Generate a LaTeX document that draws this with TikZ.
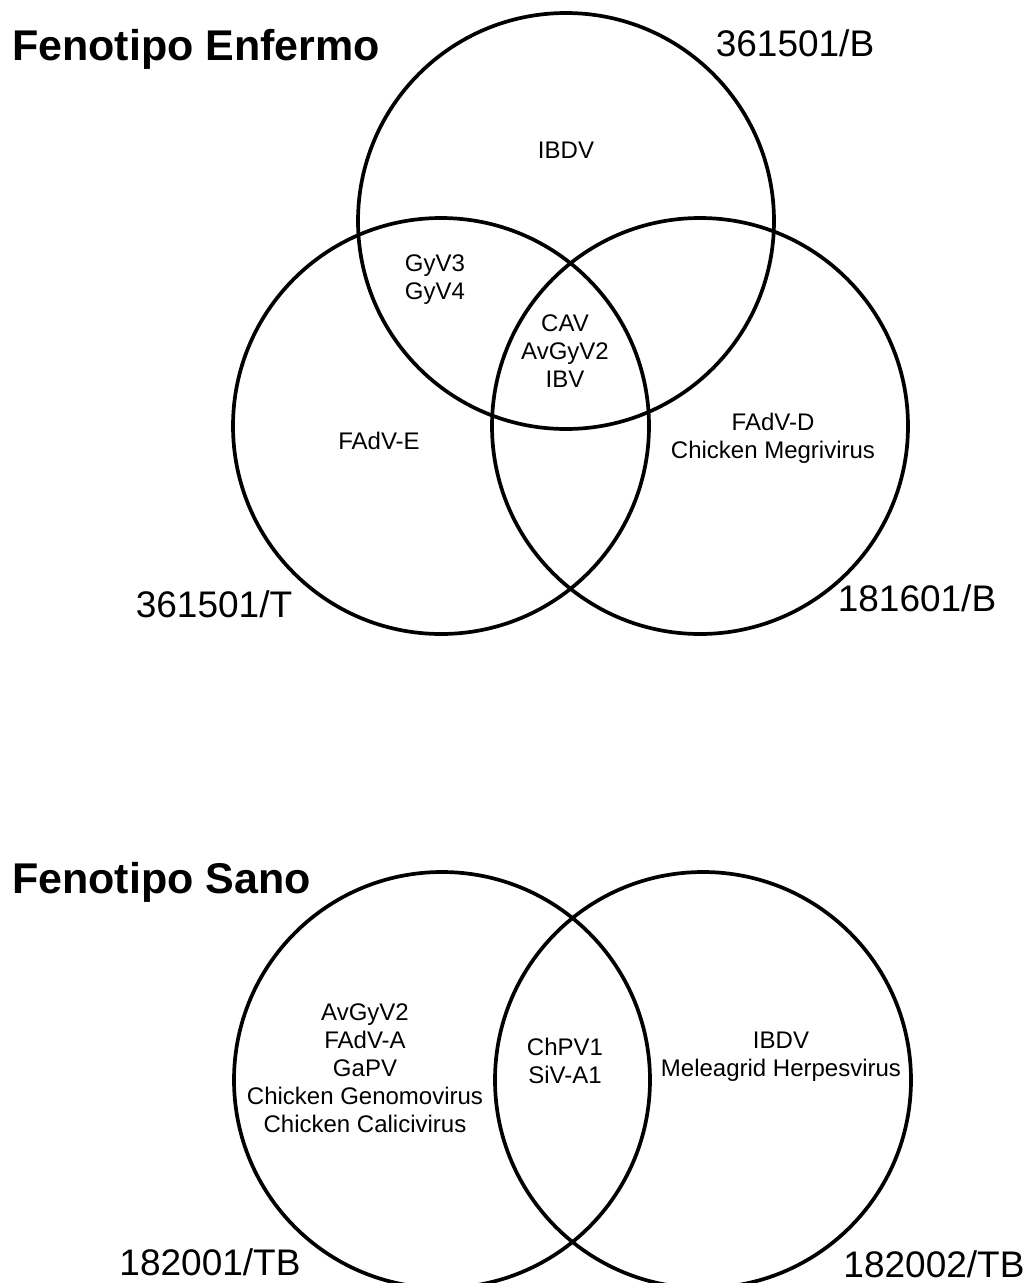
\documentclass[tikz,border=0pt]{standalone}
\usepackage{fontspec}
\setmainfont{Liberation Sans}

\tikzset{
  vset/.style={line width=3.7pt},
  phenotitle/.style={font=\fontsize{43}{50}\selectfont\bfseries, anchor=base west, inner sep=0pt},
  samplelabel/.style={font=\fontsize{37}{44}\selectfont, inner sep=0pt},
  virus/.style={font=\fontsize{24}{28}\selectfont, align=center, inner sep=0pt},
}

\begin{document}
\begin{tikzpicture}[x=1pt,y=-1pt]
    \useasboundingbox (0,0) rectangle (1030,1283);
    % Fenotipo Enfermo
    \draw [vset] (566,221) circle [radius=208pt];
    \draw [vset] (441,426) circle [radius=208pt];
    \draw [vset] (700,426) circle [radius=208pt];
    \node [phenotitle] (enfermo) at (12,60) {Fenotipo Enfermo};
    \node [samplelabel] (b361) at (795,43) {361501/B};
    \node [samplelabel] (t361) at (214,604) {361501/T};
    \node [samplelabel] (b181) at (917,598) {181601/B};
    \node [virus] (onlyB) at (566,150) {IBDV};
    \node [virus] (BT) at (435,280) {GyV3\\GyV4};
    \node [virus] (all) at (565,351) {CAV\\AvGyV2\\IBV};
    \node [virus] (onlyT) at (379,441) {FAdV-E};
    \node [virus] (onlyB2) at (773,438) {FAdV-D\\Chicken Megrivirus};
    % Fenotipo Sano
    \draw [vset] (442,1080) circle [radius=208pt];
    \draw [vset] (703,1080) circle [radius=208pt];
    \node [phenotitle] (sano) at (12,893) {Fenotipo Sano};
    \node [samplelabel] (tb1) at (210,1262) {182001/TB};
    \node [samplelabel] (tb2) at (934,1264) {182002/TB};
    \node [virus] (onlyTB1) at (365,1068) {AvGyV2\\FAdV-A\\GaPV\\Chicken Genomovirus\\Chicken Calicivirus};
    \node [virus] (both) at (565,1061) {ChPV1\\SiV-A1};
    \node [virus] (onlyTB2) at (781,1057) {IBDV\\Meleagrid Herpesvirus};
\end{tikzpicture}
\end{document}
